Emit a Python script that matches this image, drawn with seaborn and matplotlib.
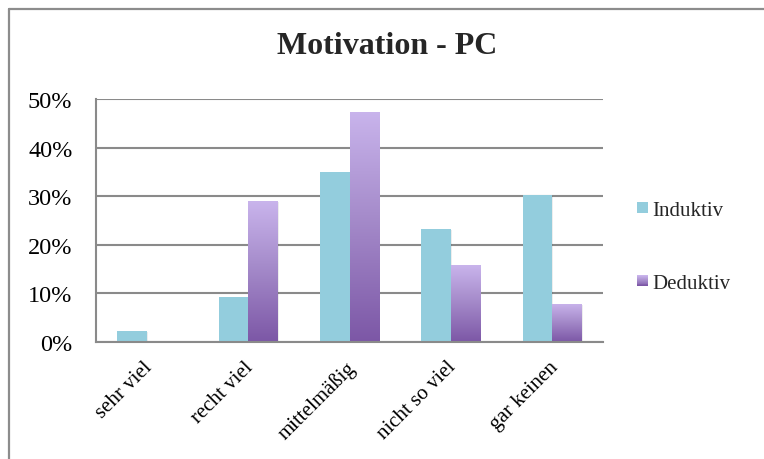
import numpy as np
import pandas as pd
import matplotlib
matplotlib.use("Agg")
import matplotlib.pyplot as plt
import matplotlib.transforms as mtransforms
import seaborn as sns
from matplotlib.colors import LinearSegmentedColormap
from matplotlib.lines import Line2D
from matplotlib.patches import Rectangle
from matplotlib.legend_handler import HandlerBase
from matplotlib.ticker import MultipleLocator, FuncFormatter

categories = ["sehr viel", "recht viel", "mittelmäßig", "nicht so viel", "gar keinen"]
induktiv = [2.3, 9.3, 34.9, 23.2, 30.3]
deduktiv = [0.0, 29.0, 47.4, 15.8, 7.9]
series = ["Induktiv", "Deduktiv"]
title = "Motivation - PC"

df = pd.DataFrame({
    "Kategorie": categories * 2,
    "Anteil": induktiv + deduktiv,
    "Gruppe": [series[0]] * len(categories) + [series[1]] * len(categories),
})

BLUE = "#93CDDD"
PURPLE_TOP = "#C9B4EC"
PURPLE_BOT = "#7C57A6"
GRID = "#8A8A8A"
purple_cmap = LinearSegmentedColormap.from_list(
    "lila", [(0.0, PURPLE_BOT), (0.55, "#A68CCB"), (1.0, PURPLE_TOP)])

sns.set_theme(style="white")
plt.rcParams["font.family"] = ["Liberation Serif", "DejaVu Serif"]

W, H = 764, 460
fig = plt.figure(figsize=(W / 100, H / 100), dpi=100)
ax = fig.add_axes([96 / W, (H - 343) / H, (603 - 96) / W, (343 - 100) / H])

sns.barplot(data=df, x="Kategorie", y="Anteil", hue="Gruppe",
            palette=[BLUE, PURPLE_TOP], width=0.58, gap=0,
            saturation=1, ax=ax, legend=False, linewidth=0)

ax.set_ylim(0, 50)
ax.set_xlim(-0.5, len(categories) - 0.5)
ax.yaxis.set_major_locator(MultipleLocator(10))
ax.yaxis.set_major_formatter(FuncFormatter(lambda v, _: f"{v:.0f}%"))
ax.set_xlabel("")
ax.set_ylabel("")

for s in ["top", "right"]:
    ax.spines[s].set_visible(False)
for s in ["left", "bottom"]:
    ax.spines[s].set_color(GRID)
    ax.spines[s].set_linewidth(1.5)
ax.grid(axis="y", color=GRID, linewidth=1.5)
ax.set_axisbelow(True)

ax.tick_params(axis="y", labelsize=17.5, length=0, pad=17, colors="black")
ax.tick_params(axis="x", labelsize=15, length=0, pad=11, colors="black")
shift = mtransforms.ScaledTranslation(-4 / 100, 0, fig.dpi_scale_trans)
for lbl in ax.get_xticklabels():
    lbl.set_rotation(45)
    lbl.set_ha("right")
    lbl.set_rotation_mode("anchor")
    lbl.set_transform(lbl.get_transform() + shift)

# Gradient fill for the second series
grad = np.linspace(0, 1, 256).reshape(-1, 1)
n = len(categories)
ded_bars = ax.patches[n:2 * n]
for bar in ded_bars:
    h = bar.get_height()
    if h <= 0:
        continue
    x0 = bar.get_x()
    w = bar.get_width()
    bar.set_facecolor("none")
    im = ax.imshow(grad, cmap=purple_cmap, origin="lower", aspect="auto",
                   extent=[x0, x0 + w, 0, h], zorder=bar.get_zorder() + 0.1)
    im.set_clip_path(bar)

# Soft shadows behind the bars
for bar in ax.patches[:2 * n]:
    h = bar.get_height()
    if h <= 0:
        continue
    sh = Rectangle((bar.get_x() + 0.01, 0), bar.get_width(), h - 0.2,
                   facecolor="#000000", alpha=0.07, linewidth=0,
                   zorder=bar.get_zorder() - 0.05)
    ax.add_patch(sh)
ax.set_xlim(-0.5, len(categories) - 0.5)
ax.set_ylim(0, 50)


class GradientHandler(HandlerBase):
    def create_artists(self, legend, orig_handle, xdescent, ydescent,
                       width, height, fontsize, trans):
        side = height * 0.95
        x = xdescent * -1 + (width - side) / 2
        y = -ydescent + (height - side) / 2
        steps = 12
        arts = []
        for i in range(steps):
            c = purple_cmap(i / (steps - 1))
            r = Rectangle((x, y + side * i / steps), side, side / steps + 0.3,
                          facecolor=c, linewidth=0, transform=trans)
            arts.append(r)
        return arts


class SquareHandler(HandlerBase):
    def create_artists(self, legend, orig_handle, xdescent, ydescent,
                       width, height, fontsize, trans):
        side = height * 0.95
        x = xdescent * -1 + (width - side) / 2
        y = -ydescent + (height - side) / 2
        return [Rectangle((x, y), side, side, facecolor=BLUE,
                          linewidth=0, transform=trans)]


h_ind = Rectangle((0, 0), 1, 1)
h_ded = Rectangle((0, 0), 1, 1)
fig.legend([h_ind, h_ded], series,
           handler_map={h_ind: SquareHandler(), h_ded: GradientHandler()},
           loc="center left", bbox_to_anchor=(637 / W, 1 - 248 / H),
           frameon=False, fontsize=15, labelspacing=2.6,
           handlelength=0.5, handleheight=0.5, handletextpad=0.25,
           borderpad=0, borderaxespad=0)

fig.text(387 / W, 1 - 47 / H, title, ha="center", va="center",
         fontsize=23, fontweight="bold")

# Chart frame
fig.add_artist(Line2D([8.5 / W, 8.5 / W], [0, 1 - 10 / H],
                      transform=fig.transFigure, color="#8C8C8C", lw=1.6))
fig.add_artist(Line2D([8.5 / W, 1.0], [1 - 10 / H, 1 - 10 / H],
                      transform=fig.transFigure, color="#8C8C8C", lw=1.6))

fig.savefig("out.png", dpi=100, facecolor="white")
